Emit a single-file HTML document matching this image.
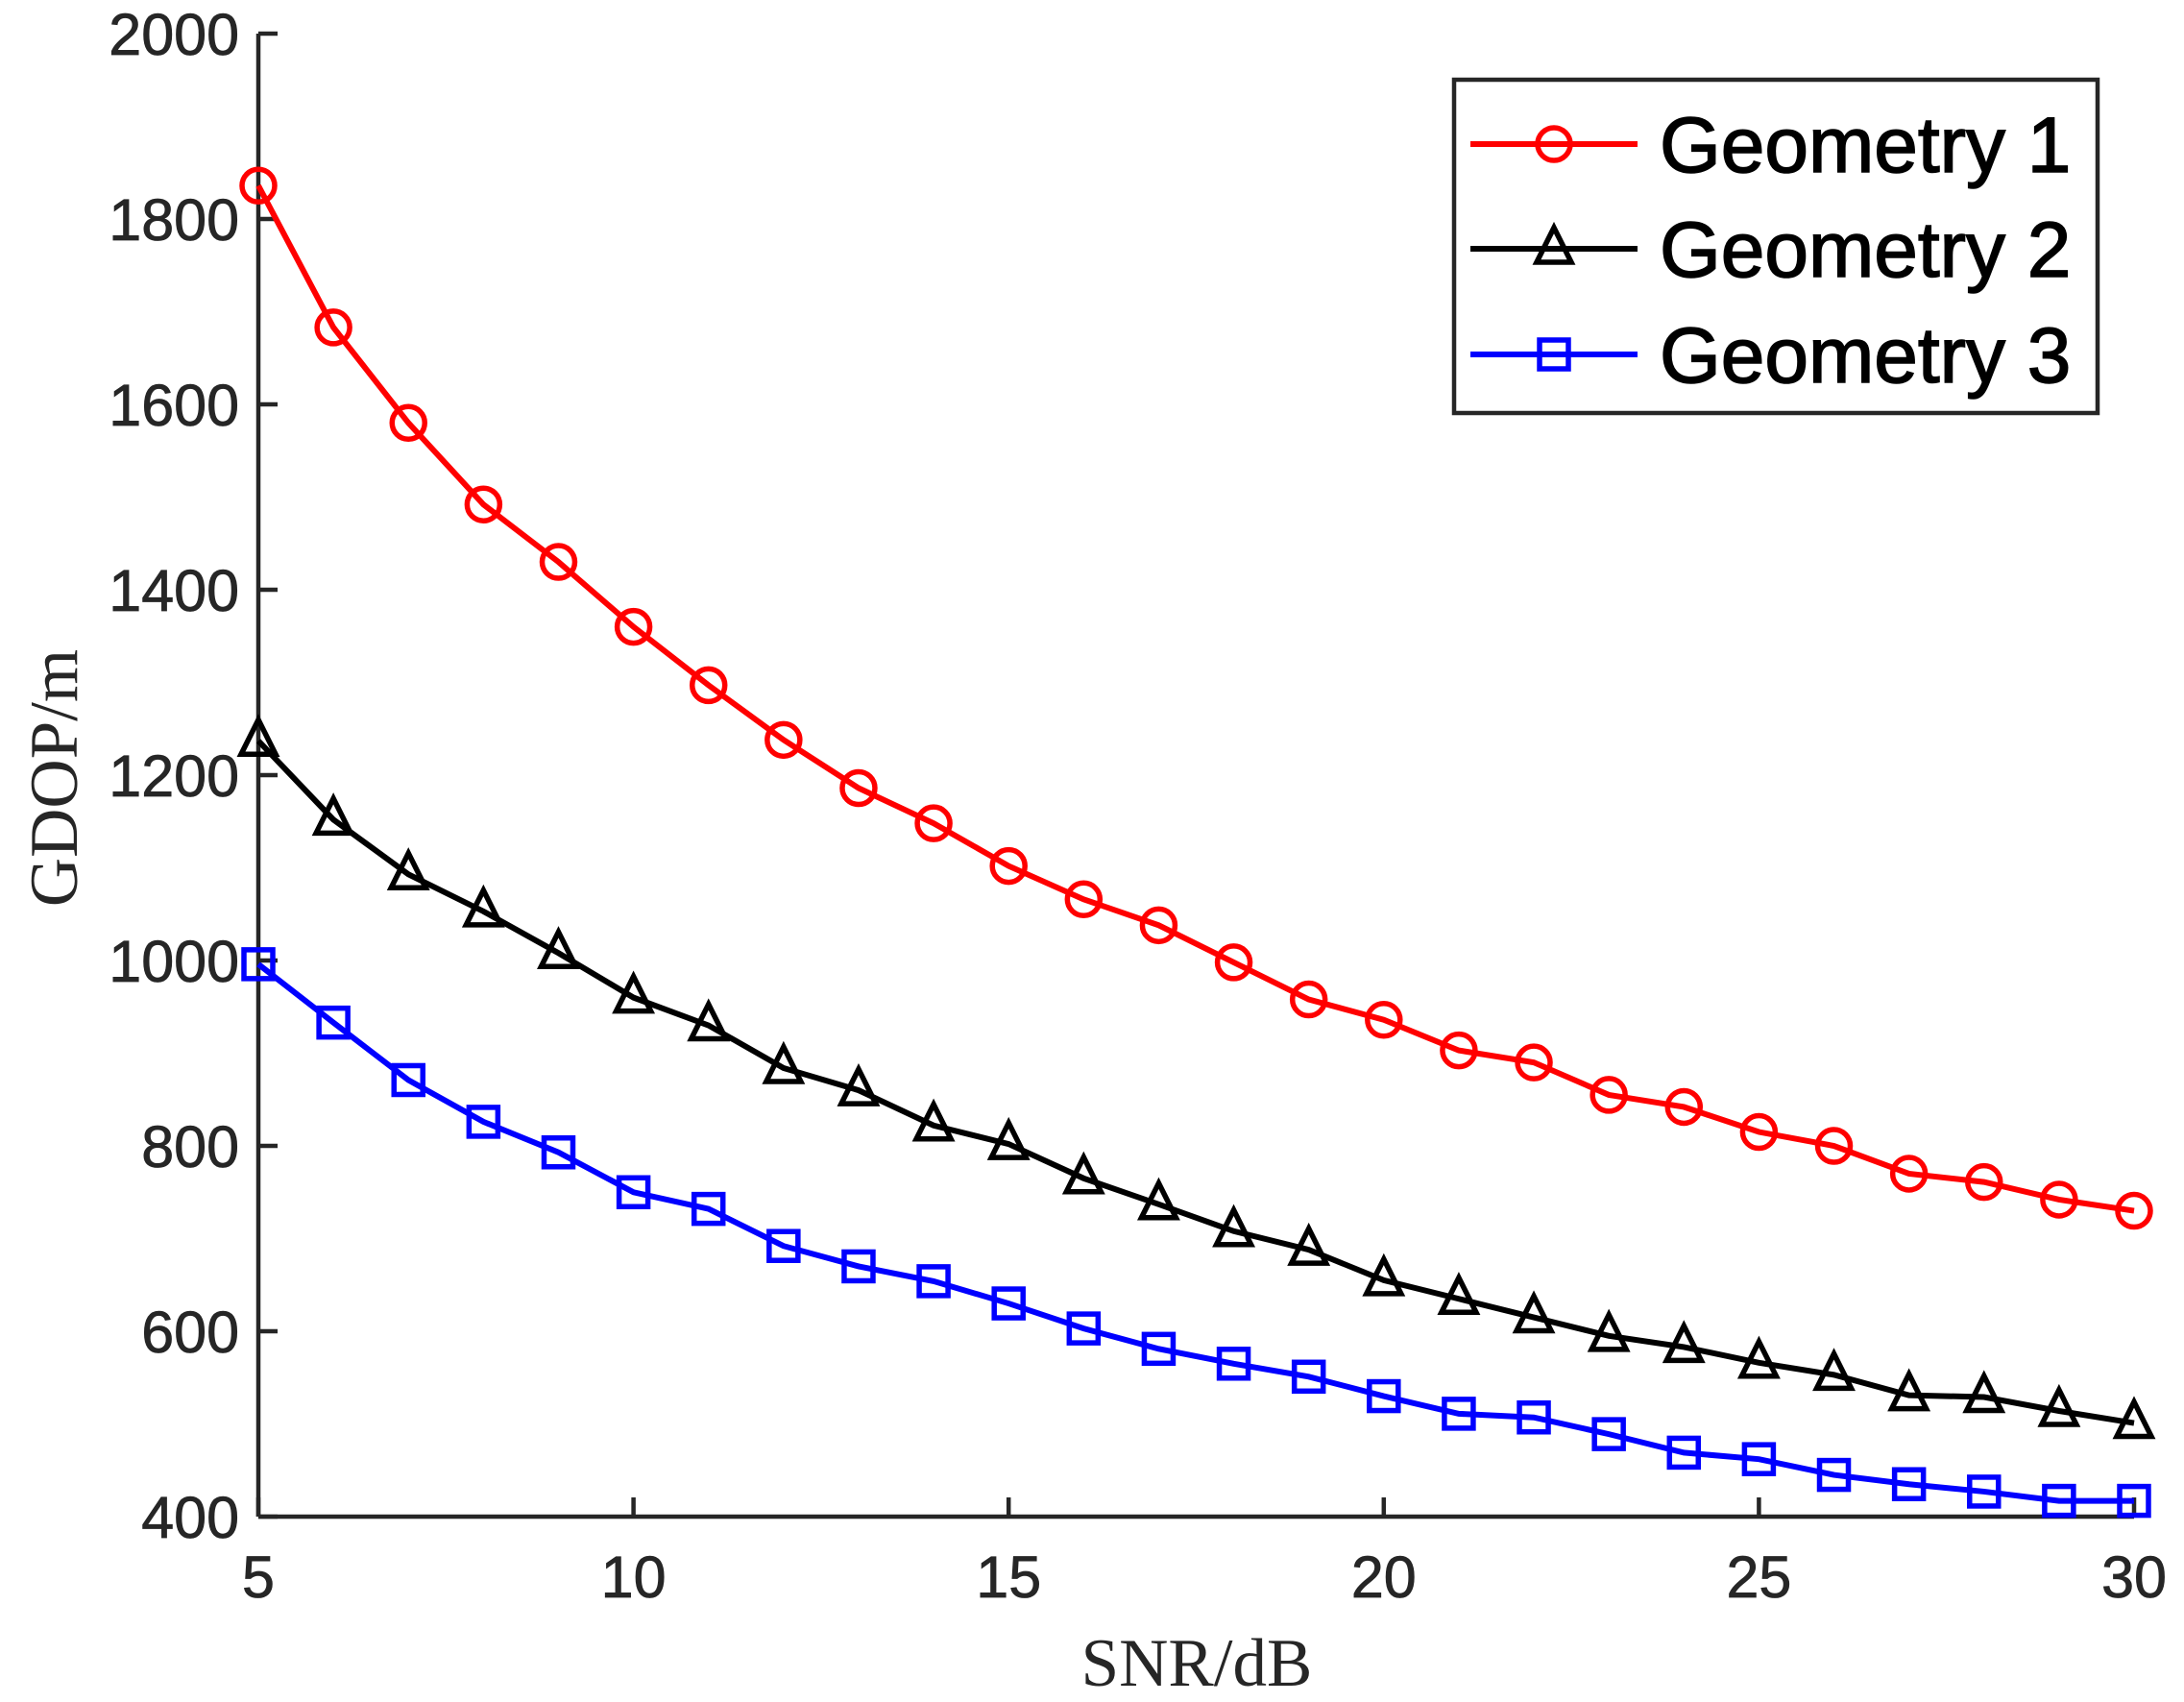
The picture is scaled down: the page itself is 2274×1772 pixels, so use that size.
<!DOCTYPE html>
<html><head><meta charset="utf-8"><style>
html,body{margin:0;padding:0;background:#fff;}
svg{display:block;}
</style></head><body>
<svg id="c" width="2274" height="1772" xmlns="http://www.w3.org/2000/svg"></svg>
<script>
const L=269,R=2222,T=35,B=1579;
const X=v=>L+(v-5)/25*(R-L), Y=v=>B-(v-400)/1600*(B-T);
const red=[1836,1683,1580,1492,1430,1360,1297,1238,1186,1148,1102,1066,1038,998,958,936,903,890,855,842,815,800,770,761,742,730];
const blk=[1237,1152,1093,1053,1008,960,930,884,860,822,802,765,737,708,688,655,635,615,595,583,566,553,531,529,514,501];
const blu=[996,933,871,826,793,750,732,692,670,654,630,603,581,565,551,530,511,507,489,469,462,445,435,427,417,417];
let s='';
const ax='#262626';
s+=`<line x1="${L}" y1="${T}" x2="${L}" y2="${B}" stroke="${ax}" stroke-width="4.5"/>`;
s+=`<line x1="${L}" y1="${B}" x2="${R}" y2="${B}" stroke="${ax}" stroke-width="4.5"/>`;
for(let v=400;v<=2000;v+=200){const y=Y(v);s+=`<line x1="${L}" y1="${y}" x2="${L+20}" y2="${y}" stroke="${ax}" stroke-width="4.5"/>`;
s+=`<text x="${L-20}" y="${y+22}" text-anchor="end" font-family="Liberation Sans,sans-serif" font-size="61" fill="${ax}" stroke="${ax}" stroke-width="0.8">${v}</text>`;}
for(let v=5;v<=30;v+=5){const x=X(v);s+=`<line x1="${x}" y1="${B}" x2="${x}" y2="${B-20}" stroke="${ax}" stroke-width="4.5"/>`;
s+=`<text x="${x}" y="${B+84}" text-anchor="middle" font-family="Liberation Sans,sans-serif" font-size="61" fill="${ax}" stroke="${ax}" stroke-width="0.8">${v}</text>`;}
s+=`<text x="1246" y="1755" text-anchor="middle" font-family="Liberation Serif,serif" font-size="71" fill="${ax}">SNR/dB</text>`;
s+=`<text transform="translate(80,810) rotate(-90)" text-anchor="middle" font-family="Liberation Serif,serif" font-size="71" fill="${ax}">GDOP/m</text>`;
function mk(t,x,y,c){
 if(t==0) return `<circle cx="${x}" cy="${y}" r="17" fill="none" stroke="${c}" stroke-width="5.5"/>`;
 if(t==1) return `<polygon points="${x},${y-22} ${x-18},${y+14} ${x+18},${y+14}" fill="none" stroke="${c}" stroke-width="5.5"/>`;
 return `<rect x="${x-15}" y="${y-15}" width="30" height="30" fill="none" stroke="${c}" stroke-width="5.5"/>`;
}
[[red,'#ff0000',0],[blk,'#000',1],[blu,'#0000ff',2]].forEach(([d,c,t])=>{
 const pts=d.map((v,i)=>`${X(5+i)},${Y(v)}`).join(' ');
 s+=`<polyline points="${pts}" fill="none" stroke="${c}" stroke-width="6"/>`;
 d.forEach((v,i)=>s+=mk(t,X(5+i),Y(v),c));
});
s+=`<rect x="1514" y="83" width="670" height="347" fill="#fff" stroke="${ax}" stroke-width="4.5"/>`;
[['Geometry 1','#ff0000',0,150],['Geometry 2','#000',1,259],['Geometry 3','#0000ff',2,369]].forEach(([n,c,t,y])=>{
 s+=`<line x1="1531" y1="${y}" x2="1705" y2="${y}" stroke="${c}" stroke-width="6"/>`;
 s+=mk(t,1618,y,c);
 s+=`<text x="1728" y="${y+29}" font-family="Liberation Sans,sans-serif" font-size="82" fill="#000" stroke="#000" stroke-width="1.5">${n}</text>`;
});
document.getElementById('c').innerHTML=s;
</script>
</body></html>
